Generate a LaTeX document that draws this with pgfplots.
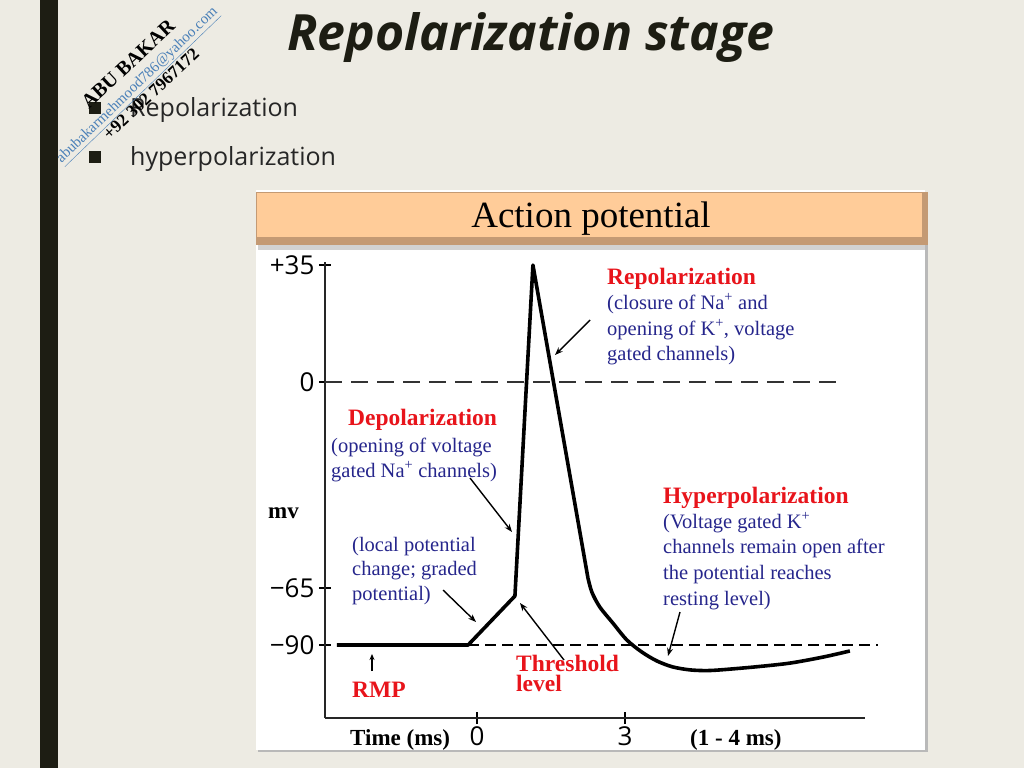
\documentclass[border=0pt]{standalone}
\usepackage{fontspec}
\setmainfont{Liberation Serif}
\newfontfamily\osans{Open Sans}
\usepackage{pgfplots}
\pgfplotsset{compat=1.18}
\usetikzlibrary{arrows.meta}

\definecolor{slidebg}{HTML}{EDEBE3}
\definecolor{barcol}{HTML}{1D1D13}
\definecolor{hdrfill}{HTML}{FFCC99}
\definecolor{hdredge}{HTML}{C49A74}
\definecolor{labred}{HTML}{E8141B}
\definecolor{labblue}{HTML}{26268C}
\definecolor{mailblue}{HTML}{4A80B8}

% one line of text, placed on its baseline (pixel coordinates)
\newcommand\txt[4]{\node[anchor=base west,inner sep=0,#1] at (#2,#3) {#4};}

\begin{document}
\begin{tikzpicture}
% ---- slide background, in pixel coordinates ----
\begin{scope}[x=1pt,y=-1pt]
  \path[use as bounding box, fill=slidebg] (0,0) rectangle (1024,768);
  \fill[barcol] (40,0) rectangle (58,768);
  \node[anchor=base west,inner sep=0,text=barcol,
        font=\osans\bfseries\itshape\fontsize{50}{56}\selectfont] at (287,50) {Repolarization stage};
  \fill[barcol] (89,102) rectangle (101,114);
  \fill[barcol] (89,151) rectangle (101,163);
  \txt{text=black!85,font=\osans\fontsize{25}{28}\selectfont}{130}{116}{Repolarization}
  \txt{text=black!85,font=\osans\fontsize{25}{28}\selectfont}{130}{165}{hyperpolarization}
  % watermark
  \node[rotate=43,font=\bfseries\fontsize{20}{22}\selectfont,inner sep=0] at (128,64) {ABU BAKAR};
  \node[rotate=44,font=\fontsize{15}{18}\selectfont,text=mailblue,inner sep=0] at (138,86) {\underline{abubakarmehmood786@yahoo.com}};
  \node[rotate=43,font=\bfseries\fontsize{17.5}{20}\selectfont,inner sep=0] at (151,94) {+92 302 7967172};
  % chart panel
  \fill[gray!55] (258,192) rectangle (928,752);
  \fill[white] (256,190) rectangle (925,750);
  \fill[hdredge] (256,192) rectangle (928,245);
  \fill[hdrfill] (257,193) rectangle (922,237);
  \fill[gray!35] (258,245) rectangle (925,250);
  \node[font=\fontsize{37}{40}\selectfont,inner sep=0,anchor=base] at (591,227) {Action potential};
\end{scope}

% ---- the chart ----
\begin{axis}[
  at={(325pt,-718pt)}, anchor=south west,
  x=49.33pt, y=1pt,
  y coord trafo/.code={\pgfmathparse{3.343*max(#1,0)+3.169*min(max(#1,-65),0)+2.28*min(#1+65,0)}},
  xmin=-3.08, xmax=7.87, ymin=-122, ymax=35.9,
  axis x line=bottom, axis y line=left,
  axis line style={-, line width=2.6pt, black!85},
  clip=false,
  xtick={0,3}, xticklabels={0,3},
  ytick={-90,-65,0,35}, yticklabels={−90,−65,0,+35},
  tick align=center, major tick length=12pt,
  every tick/.style={black, line width=2pt},
  tick label style={font=\osans\fontsize{26}{28}\selectfont},
  xticklabel style={yshift=1pt},
  yticklabel style={xshift=-1pt},
  /pgf/number format/assume math mode=true,
]
  % 0 mV and resting level
  \addplot[black!80, line width=2.6pt, dash pattern=on 17pt off 9pt] coordinates {(-3.08,0) (7.46,0)};
  \addplot[black, line width=2.4pt, dash pattern=on 11pt off 6pt] coordinates {(-0.18,-90) (8.13,-90)};
  % action potential
  \addplot[black, line width=3.6pt, line join=round] coordinates {
    (-2.84,-90) (-0.18,-90) (0.77,-68.5) (1.135,35) (2.25,-61.8)
  };
  \addplot[black, line width=3.6pt, smooth, tension=0.5] coordinates {
    (2.25,-61.8) (2.33,-66.8) (2.49,-73.3) (2.757,-80.4) (3.04,-87.8) (3.345,-93.1)
    (3.65,-97.0) (3.97,-99.6) (4.32,-100.9) (4.66,-101.2) (4.99,-100.8)
    (5.68,-99.5) (6.35,-97.9) (7.01,-95.3) (7.56,-92.6)
  };
\end{axis}

% ---- annotations, in pixel coordinates ----
\begin{scope}[x=1pt,y=-1pt]
  \tikzset{red/.style={text=labred,font=\bfseries\fontsize{23.5}{26}\selectfont},
           blue/.style={text=labblue,font=\fontsize{20.5}{24}\selectfont},
           blk/.style={font=\bfseries\fontsize{23}{26}\selectfont},
           arr/.style={black, line width=1.4pt, -{Stealth[length=8pt,width=6pt]}}}
  \txt{red}{607}{284}{Repolarization}
  \txt{blue}{607}{309}{(closure of Na\textsuperscript{+} and}
  \txt{blue}{607}{335}{opening of K\textsuperscript{+}, voltage}
  \txt{blue}{607}{360}{gated channels)}
  \txt{red}{348}{425}{Depolarization}
  \txt{blue}{331}{452}{(opening of voltage}
  \txt{blue}{331}{477}{gated Na\textsuperscript{+} channels)}
  \txt{blue}{352}{551}{(local potential}
  \txt{blue}{352}{575}{change; graded}
  \txt{blue}{352}{600}{potential)}
  \txt{red}{663}{503}{Hyperpolarization}
  \txt{blue}{663}{528}{(Voltage gated K\textsuperscript{+}}
  \txt{blue}{663}{553}{channels remain open after}
  \txt{blue}{663}{579}{the potential reaches}
  \txt{blue}{663}{605}{resting level)}
  \txt{red}{516}{671}{Threshold}
  \txt{red}{516}{691}{level}
  \txt{red}{352}{697}{RMP}
  \txt{blk}{268}{518}{mv}
  \txt{blk}{350}{745}{Time (ms)}
  \txt{blk}{690}{745}{(1 - 4 ms)}
  \draw[arr] (590,320) -- (555,355);
  \draw[arr] (470,478) -- (512,532);
  \draw[arr] (443,590) -- (476,622);
  \draw[arr] (564,660) -- (520,603);
  \draw[arr] (680,612) -- (668,656);
  \draw[black, line width=1.2pt, -{Stealth[length=6pt,width=5pt]}] (372,671) -- (372,654);
\end{scope}
\end{tikzpicture}
\end{document}
